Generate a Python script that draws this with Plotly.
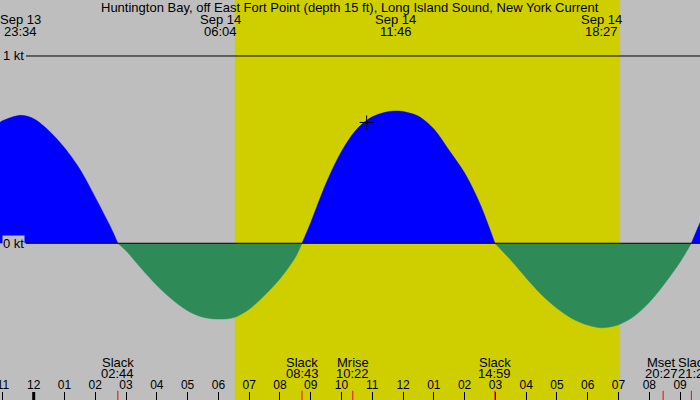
import pandas as pd
import plotly.graph_objects as go

# tidal current, hours after Sep 14 00:00 -> knots
hours = [-1.10, -1.0, -0.43, 0.0, 0.5, 1.0, 1.5, 2.0, 2.5, 2.733,
         3.0, 3.5, 4.0, 4.5, 5.0, 5.5, 6.067, 6.5, 7.0, 7.5, 8.0, 8.5, 8.717,
         9.0, 9.5, 10.0, 10.5, 11.0, 11.5, 11.767, 12.0, 12.5, 13.0, 13.5, 14.0, 14.5, 14.983,
         15.5, 16.0, 16.5, 17.0, 17.5, 18.0, 18.45, 19.0, 19.5, 20.0, 20.5, 21.0, 21.367,
         21.65, 21.90]
knots = [0.646, 0.655, 0.683, 0.665, 0.60, 0.51, 0.395, 0.245, 0.085, 0.0,
         -0.04, -0.135, -0.225, -0.30, -0.36, -0.395, -0.405, -0.397, -0.352, -0.278, -0.19, -0.075, 0.0,
         0.11, 0.32, 0.49, 0.61, 0.675, 0.702, 0.706, 0.703, 0.678, 0.61, 0.495, 0.375, 0.21, 0.0,
         -0.09, -0.185, -0.275, -0.347, -0.403, -0.437, -0.451, -0.435, -0.39, -0.315, -0.215, -0.10, 0.0,
         0.11, 0.20]

# max flood / max ebb labels along the top
peak_stamps = ["2024-09-13 23:34", "2024-09-14 06:04", "2024-09-14 11:46", "2024-09-14 18:27"]

# events along the bottom
event_names = ["Slack", "Slack", "Mrise", "Slack", "Mset", "Slack"]
event_stamps = ["2024-09-14 02:44", "2024-09-14 08:43", "2024-09-14 10:22",
                "2024-09-14 14:59", "2024-09-14 20:27", "2024-09-14 21:22"]
event_nudge = [0, 0, 0, 0, -2, 3]

sunrise = "2024-09-14 06:32"
sunset = "2024-09-14 19:03"
midnight = "2024-09-14 00:00"
mark_stamp = "2024-09-14 10:49"
mark_kt = 0.645

x_start = "2024-09-13 22:54:18"
x_end = "2024-09-14 21:38:50"

title = "Huntington Bay, off East Fort Point (depth 15 ft), Long Island Sound, New York Current"

GREY = "rgb(190,190,190)"
YELLOW = "rgb(207,207,0)"
BLUE = "rgb(0,0,255)"
GREEN = "rgb(46,139,87)"
FONT = "Liberation Sans, Arial, sans-serif"

base = pd.Timestamp(midnight)
times = [base + pd.Timedelta(hours=h) for h in hours]

# split the curve into flood / ebb lobes at slack points
segments = []
cur_x, cur_y = [], []
for t, v in zip(times, knots):
    cur_x.append(t)
    cur_y.append(v)
    if v == 0 and len(cur_x) > 1:
        segments.append((cur_x, cur_y))
        cur_x, cur_y = [t], [v]
segments.append((cur_x, cur_y))

fig = go.Figure()
for sx, sy in segments:
    col = BLUE if max(sy) > -min(sy) else GREEN
    fig.add_trace(go.Scatter(
        x=sx, y=sy, mode="lines", line=dict(color=col, width=0.5, shape="spline", smoothing=0.9),
        fill="tozeroy", fillcolor=col, hoverinfo="skip"))

fig.add_trace(go.Scatter(
    x=[pd.Timestamp(mark_stamp)], y=[mark_kt], mode="markers",
    marker=dict(symbol="cross-thin", size=10, line=dict(color="black", width=1)),
    hoverinfo="skip"))

shapes = [
    dict(type="rect", xref="x", yref="paper", x0=sunrise, x1=sunset, y0=0, y1=1,
         fillcolor=YELLOW, line=dict(width=0), layer="below"),
    dict(type="line", xref="paper", yref="y", x0=26 / 700, x1=1, y0=1, y1=1,
         line=dict(color="black", width=1)),
    dict(type="line", xref="paper", yref="y", x0=26 / 700, x1=1, y0=0, y1=0,
         line=dict(color="black", width=1)),
    dict(type="line", xref="x", yref="paper", x0=midnight, x1=midnight, y0=0, y1=0.02,
         line=dict(color="black", width=3)),
]
for s in event_stamps:
    shapes.append(dict(type="line", xref="x", yref="paper", x0=s, x1=s, y0=0, y1=0.023,
                       line=dict(color="red", width=1)))

txt = dict(showarrow=False, xanchor="center", yanchor="middle")
ann = [dict(text=title, xref="paper", yref="paper", x=0.5, y=0.981, **txt)]
for s in peak_stamps:
    ts = pd.Timestamp(s)
    ann.append(dict(text=ts.strftime("%b %d"), x=s, xref="x", yref="paper", y=0.951, **txt))
    ann.append(dict(text=ts.strftime("%H:%M"), x=s, xref="x", yref="paper", y=0.92, **txt))
for name, s, dx in zip(event_names, event_stamps, event_nudge):
    ts = pd.Timestamp(s)
    ann.append(dict(text=name, x=s, xref="x", yref="paper", y=0.095, xshift=dx, **txt))
    ann.append(dict(text=ts.strftime("%H:%M"), x=s, xref="x", yref="paper", y=0.066,
                    xshift=dx, **txt))
ann.append(dict(text="1 kt", xref="paper", yref="y", x=0.003, y=1, xanchor="left",
                yanchor="middle", showarrow=False, bgcolor=GREY, borderpad=0))
ann.append(dict(text="0 kt", xref="paper", yref="y", x=0.003, y=0, xanchor="left",
                yanchor="middle", showarrow=False, bgcolor=GREY, borderpad=0))

fig.update_layout(
    width=700, height=400, margin=dict(l=0, r=0, t=0, b=0, autoexpand=False),
    paper_bgcolor=GREY, plot_bgcolor=GREY, showlegend=False,
    font=dict(family=FONT, size=13, color="black"),
    shapes=shapes, annotations=ann,
    xaxis=dict(type="date", range=[x_start, x_end], tick0=midnight, dtick=3600000,
               tickformat="%I", ticks="inside", ticklen=8, tickcolor="black", tickwidth=1,
               ticklabelposition="inside", ticklabeloverflow="allow",
               showgrid=False, zeroline=False, showline=False,
               tickfont=dict(size=12, color="black")),
    yaxis=dict(range=[-0.837, 1.299], visible=False, showgrid=False, zeroline=False),
)

# drop the browser's default page margin so the chart sits at the window corner
fig.write_html("out.html", config={"displayModeBar": False},
               post_script="document.body.style.margin='0';")
